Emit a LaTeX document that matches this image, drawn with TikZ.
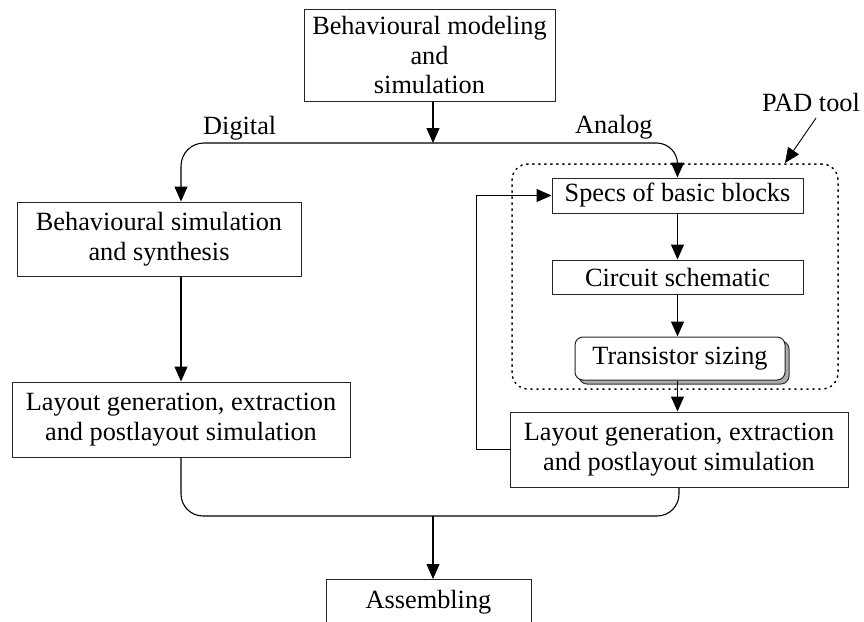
\documentclass[tikz,border=0pt]{standalone}
\usepackage{fontspec}
\setmainfont{Liberation Serif}
\usetikzlibrary{arrows.meta,shadows,calc}
\begin{document}
\begin{tikzpicture}[x=1pt,y=-1pt,
  every node/.style={font=\fontsize{26.3}{29.5}\selectfont},
  box/.style={draw=black!85, line width=1pt, align=center, inner sep=0pt, fill=white},
  arr/.style={-{Triangle[length=15pt,width=13pt]}, line width=1.1pt},
  conn/.style={line width=1.1pt},
  lbl/.style={inner sep=0pt, anchor=base west},
  padbox/.style={draw, dash pattern=on 1.4pt off 4.6pt, line width=1.5pt, line cap=round, rounded corners=16pt}
]
\useasboundingbox (0,0) rectangle (864,621);
\begin{scope}
\clip (0,0) rectangle (864,621);
% PAD tool dotted region
\node[padbox, minimum width=326, minimum height=225] (pad) at (675,276.5) {};
% boxes
\node[box, minimum width=251, minimum height=92] (top) at (429.5,55.5) {Behavioural modeling\\and\\simulation};
\node[box, minimum width=284, minimum height=74] (bsim) at (159,239) {Behavioural simulation\\and synthesis};
\node[box, minimum width=338, minimum height=75] (layL) at (181,419.5) {Layout generation, extraction\\and postlayout simulation};
\node[box, minimum width=251, minimum height=35] (specs) at (677.5,195.5) {Specs of basic blocks};
\node[box, minimum width=251, minimum height=34] (circ) at (677.5,277) {Circuit schematic};
\node[box, rounded corners=8pt, minimum width=210, minimum height=43,
      drop shadow={shadow xshift=4pt, shadow yshift=-4pt, fill=gray!65, draw=black!80, opacity=1}] (trans) at (680,358.5) {Transistor sizing};
\node[box, minimum width=338, minimum height=75] (layR) at (679,449.5) {Layout generation, extraction\\and postlayout simulation};
\node[box, anchor=north, minimum width=205, text height=18pt, text depth=30pt, inner ysep=11pt] (assem) at (428.5,579) {Assembling};
% labels
\node[lbl] (dig) at (203,134) {Digital};
\node[lbl] (ana) at (575,133) {Analog};
\node[lbl] (padlbl) at (762,111) {PAD tool};
% connectors
\coordinate (j1) at (433,143);
\coordinate (j2) at (433,516);
\coordinate (padfrom) at (816,118);
\coordinate (padtip) at (785,163);
\draw[arr] (top.south -| j1) -- (j1);
\draw[arr, rounded corners=23pt] (j1) -| (bsim.north -| layL.north);
\draw[arr, rounded corners=21pt] (j1) -| (specs.north);
\draw[arr] (bsim.south -| layL.north) -- (layL.north);
\draw[arr] (specs.south) -- (circ.north);
\draw[arr] (circ.south) -- (circ.south |- trans.north);
\draw[arr] (trans.south -| circ.south) -- (layR.north -| circ.south);
\draw[arr] (layR.west) -- ++(-33,0) |- (specs.west);
\draw[conn, rounded corners=22pt] (layL.south) |- (j2) -| (layR.south);
\draw[arr] (j2) -- (j2 |- assem.north);
\draw[arr, line width=0.9pt] (padfrom) -- (padtip);
\end{scope}
\end{tikzpicture}
\end{document}
